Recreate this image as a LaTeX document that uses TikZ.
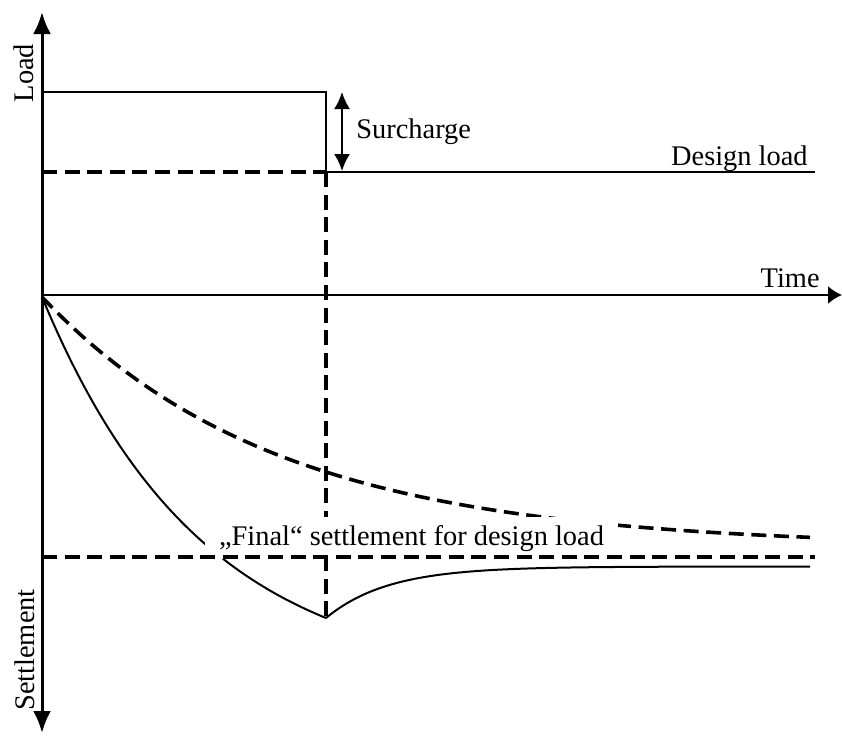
\documentclass[tikz,border=0pt]{standalone}
\usepackage{fontspec}
\setmainfont{Liberation Serif}
\usetikzlibrary{arrows.meta}
\begin{document}
\begin{tikzpicture}[x=0.5pt,y=-0.5pt,
  axisline/.style={line width=1.5pt},
  thinline/.style={line width=1pt},
  dline/.style={line width=1.8pt, dash pattern=on 7.5pt off 3.8pt},
  lbl/.style={font=\fontsize{14.2}{17}\selectfont, inner sep=0pt},
  bigtip/.style={-{Latex[length=11pt,width=9pt]}},
  smalltip/.style={{Latex[length=8.5pt,width=8pt]}-{Latex[length=8.5pt,width=8pt]}}
]
\useasboundingbox (0,0) rectangle (842,735);
% coordinates
\coordinate (O) at (42,295);
\coordinate (ytop) at (42,12);
\coordinate (ybot) at (42,733);
\coordinate (xend) at (842,295);
\coordinate (L0) at (42,92);
\coordinate (L1) at (326,92);
\coordinate (D0) at (42,172);
\coordinate (D1) at (326,172);
\coordinate (D2) at (815,172);
\coordinate (V1) at (326,618);
\coordinate (F0) at (42,557);
\coordinate (F1) at (815,557);
\coordinate (S0) at (342,92);
\coordinate (S1) at (342,171);
% load diagram
\draw[thinline] (L0) -- (L1) -- (D1);
\draw[line width=1.3pt] (D1) -- (D2);
\draw[dline] (D0) -- (D1);
\draw[thinline, smalltip] (S0) -- (S1);
% settlement curves
\draw[dline] plot[domain=42:810, samples=80, smooth] (\x, {297+250*(1-exp(-(\x-42)/236))});
\draw[thinline] plot[domain=42:326, samples=60, smooth] (\x, {297+386.5*(1-exp(-(\x-42)/160))});
\draw[thinline] plot[domain=326:810, samples=80, smooth] (\x, {566.5+51.5*exp(-(\x-326)/62)});
\draw[dline] (D1) -- (V1);
% labels
\node[lbl, fill=white, inner xsep=7pt, inner ysep=3.8pt, anchor=base] (fin) at (411.5,545) {„Final“ settlement for design load};
\draw[dline] (F0) -- (F1);
% axes
\draw[axisline, bigtip] (O) -- (ytop);
\draw[axisline, bigtip] (O) -- (ybot);
\draw[thinline, -{Latex[length=7pt,width=9pt]}] (O) -- (xend);
\node[lbl, rotate=90] (load) at (24,73) {Load};
\node[lbl, rotate=90] (settl) at (25,650) {Settlement};
\node[lbl, anchor=west] (sur) at (356,132) {Surcharge};
\node[lbl, anchor=base east] (dl) at (808,165) {Design load};
\node[lbl, anchor=base east] (time) at (820,287) {Time};
\end{tikzpicture}
\end{document}
